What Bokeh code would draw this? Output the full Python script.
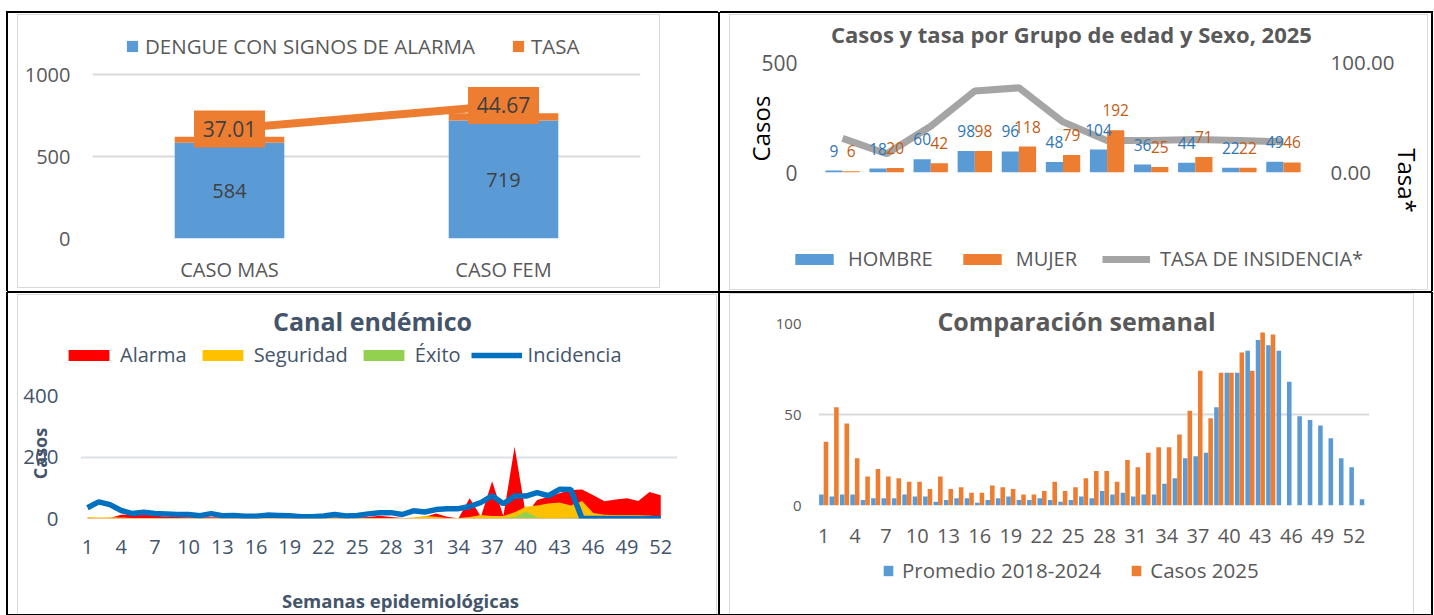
from bokeh.plotting import figure
from bokeh.models import (ColumnDataSource, Range1d, FactorRange, LinearAxis, FixedTicker,
                          NumeralTickFormatter, Legend, LegendItem, Label)
from bokeh.transform import dodge
from bokeh.core.properties import value
from bokeh.embed import file_html
from bokeh.resources import INLINE

# ---------------- data ----------------
# Panel 1: dengue con signos de alarma por sexo
sexo_cats = ["CASO MAS", "CASO FEM"]
sexo_casos = [584, 719]
sexo_tasa = [37.01, 44.67]

# Panel 2: casos y tasa por grupo de edad y sexo, 2025
grupos = ["<1", "1-4", "5-9", "10-14", "15-19", "20-29", "30-39", "40-49", "50-59", "60-69", "70+"]
hombre = [9, 18, 60, 98, 96, 48, 104, 36, 44, 22, 49]
mujer = [6, 20, 42, 98, 118, 79, 192, 25, 71, 22, 46]
tasa_incidencia = [31, 17, 42, 74, 77, 46, 29, 29, 30, 29, 28]

# Panel 4: comparacion semanal
semanas53 = list(range(1, 54))
promedio_2018_2024 = [6, 5, 6, 6, 3, 4, 4, 4, 6, 5, 5, 2, 3, 4, 4, 1.5, 3, 4, 5, 3,
                      3, 4, 3, 2, 3, 5, 4, 8, 6, 7, 5, 6, 6, 12, 15, 26, 27, 29, 54, 73,
                      73, 85, 91, 88, 85, 68, 49, 47, 44, 37, 26, 21, 3.5]
semanas_2025 = list(range(1, 45))
casos_2025 = [35, 54, 45, 26, 16, 20, 16, 15, 13, 13, 9, 16, 9, 10, 7, 7, 11, 10, 9, 6,
              6, 8, 13, 8, 10, 15, 19, 19, 13, 25, 21, 29, 32, 32, 39, 52, 74, 48, 73, 73,
              84, 74, 95, 94]

# Panel 3: canal endemico
semanas52 = list(range(1, 53))
alarma = [2, 2, 2, 12, 12, 12, 10, 6, 5, 4, 4, 4, 3, 3, 3, 3, 3, 3, 3, 3,
          3, 3, 3, 3, 3, 5, 9, 5, 2, 2, 5, 16, 6, 0, 66, 6, 121, 8, 233, 12,
          60, 71, 82, 93, 94, 76, 56, 62, 66, 57, 86, 76]
seguridad = [5, 3, 4, 3, 2, 2, 2, 2, 2, 2, 2, 2, 2, 2, 2, 2, 2, 2, 2, 2,
             2, 2, 2, 2, 2, 2, 2, 2, 2, 3, 8, 6, 2, 2, 5, 11, 8, 8, 20, 38,
             42, 49, 52, 42, 57, 18, 12, 11, 11, 11, 10, 5]
exito = [1, 1, 1, 1, 1, 1, 1, 1, 1, 1, 1, 1, 1, 1, 1, 1, 1, 1, 1, 1,
         1, 1, 1, 1, 1, 1, 1, 1, 1, 1, 1, 1, 1, 1, 1, 1, 2, 2, 5, 22,
         4, 2, 2, 3, 3, 2, 1, 1, 1, 1, 1, 1]
incidencia = casos_2025 + [0, 0, 0, 0, 0, 0, 0, 0]

# ---------------- styles ----------------
FONT = "Open Sans"
BLUE = "#5b9bd5"
ORANGE = "#ed7d31"
GRAYLINE = "#a5a5a5"
RED = "#ff0000"
YELLOW = "#ffc000"
GREEN = "#92d050"
INC_BLUE = "#0070c0"
GTXT = "#595959"
SLATE = "#44546a"
CHART_BORDER = "#d9d9d9"


def cell_styles(left, top, shadow, rect):
    l, t, r, b = rect
    g = "linear-gradient(%s,%s)" % (CHART_BORDER, CHART_BORDER)
    return {
        "position": "absolute", "left": "%dpx" % left, "top": "%dpx" % top,
        "background-color": "white",
        "background-image": ", ".join([g] * 4),
        "background-repeat": "no-repeat",
        "background-position": "%dpx %dpx, %dpx %dpx, %dpx %dpx, %dpx %dpx" % (l, t, r, t, l, t, l, b),
        "background-size": "1px %dpx, 1px %dpx, %dpx 1px, %dpx 1px" % (b - t, b - t, r - l + 1, r - l + 1),
        "outline": "1px solid #000000", "outline-offset": "-1px",
        "box-shadow": shadow,
    }


def base_fig(**kw):
    p = figure(output_backend="svg", toolbar_location=None, **kw)
    p.outline_line_color = None
    p.border_fill_color = None
    p.background_fill_color = None
    p.xgrid.grid_line_color = None
    return p


def overlay_fig(left, top, width, height):
    """Transparent layer over a cell that holds titles, axis titles and legends."""
    o = figure(output_backend="svg", toolbar_location=None, width=width, height=height,
               x_range=Range1d(0, 1), y_range=Range1d(0, 1),
               x_axis_location=None, y_axis_location=None, min_border=0)
    o.xgrid.visible = False
    o.ygrid.visible = False
    o.outline_line_color = None
    o.border_fill_color = None
    o.background_fill_color = None
    o.styles = {"position": "absolute", "left": "%dpx" % left, "top": "%dpx" % top}
    return o


# legend swatches live outside the overlay's visible range, only the legend shows them
KEY_SRC = dict(x=[-5, -4], y=[-5, -5], y2=[-4, -4])


def key_bar(o, color):
    return o.vbar(x=KEY_SRC["x"][:1], top=KEY_SRC["y"][:1], width=0.5, fill_color=color, line_color=None)


def key_line(o, color, width):
    return o.line(x=KEY_SRC["x"], y=KEY_SRC["y"], line_color=color, line_width=width)


def key_area(o, color):
    return o.varea(x=KEY_SRC["x"], y1=KEY_SRC["y"], y2=KEY_SRC["y2"], fill_color=color)


def style_axis(ax, size, color, standoff):
    ax.axis_line_color = None
    ax.major_tick_line_color = None
    ax.minor_tick_line_color = None
    ax.major_tick_out = 0
    ax.major_tick_in = 0
    ax.major_label_text_font = FONT
    ax.major_label_text_font_size = size
    ax.major_label_text_color = color
    ax.major_label_standoff = standoff


def style_legend(lg, size, color, gw, gh, standoff, spacing):
    lg.orientation = "horizontal"
    lg.glyph_width = gw
    lg.glyph_height = gh
    lg.label_standoff = standoff
    lg.spacing = spacing
    lg.padding = 0
    lg.margin = 0
    lg.border_line_color = None
    lg.background_fill_alpha = 0
    lg.label_text_font = FONT
    lg.label_text_font_size = size
    lg.label_text_color = color


def text_label(x, y, text, size, color, bold=False, angle=0, bg=None):
    lab = Label(x=x, y=y, x_units="screen", y_units="screen", text=text,
                angle=angle, angle_units="deg", text_align="center", text_baseline="middle",
                text_font=FONT, text_font_size=size, text_color=color,
                text_font_style="bold" if bold else "normal")
    if bg is not None:
        lab.background_fill_color = bg
    return lab


# ---------------- Panel 1 ----------------
src1 = ColumnDataSource(dict(
    cat=sexo_cats, casos=sexo_casos, tasa=sexo_tasa,
    top2=[c + t for c, t in zip(sexo_casos, sexo_tasa)],
    mid=[c / 2 for c in sexo_casos],
    casos_s=[str(c) for c in sexo_casos],
    tasa_s=["%.2f" % t for t in sexo_tasa]))

p1 = base_fig(x_range=FactorRange(*sexo_cats), y_range=Range1d(0, 1304.9), width=712, height=280,
              min_border_left=85, min_border_right=79, min_border_top=12, min_border_bottom=54)
p1.styles = cell_styles(7, 12, "-1px -1px 0 0 #000000", (10, 2, 652, 275))
p1.extra_y_ranges = {"tasa": Range1d(1.22, 71.12)}
p1.yaxis.ticker = FixedTicker(ticks=[0, 500, 1000])
p1.ygrid.ticker = FixedTicker(ticks=[0, 500, 1000])
p1.ygrid.grid_line_color = "#d9d9d9"
p1.ygrid.grid_line_width = 2
style_axis(p1.yaxis[0], "20px", GTXT, 22)
style_axis(p1.xaxis[0], "20px", GTXT, 17)

b1 = p1.vbar(x="cat", top="casos", width=0.4, source=src1, fill_color=BLUE, line_color=None)
b2 = p1.vbar(x="cat", bottom="casos", top="top2", width=0.4, source=src1, fill_color=ORANGE, line_color=None)
p1.line(x="cat", y="tasa", source=src1, y_range_name="tasa", line_color=ORANGE, line_width=8)
p1.rect(x="cat", y="tasa", width=71, height=37, width_units="screen", height_units="screen",
        source=src1, y_range_name="tasa", fill_color=ORANGE, line_color=None)
p1.text(x="cat", y="tasa", text="tasa_s", source=src1, y_range_name="tasa",
        text_font=value(FONT), text_font_size="21px", text_color="#404040",
        text_align="center", text_baseline="middle")
p1.text(x="cat", y="mid", text="casos_s", source=src1,
        text_font=value(FONT), text_font_size="20px", text_color="#404040",
        text_align="center", text_baseline="middle")

lg1 = Legend(items=[LegendItem(label="DENGUE CON SIGNOS DE ALARMA", renderers=[b1]),
                    LegendItem(label="TASA", renderers=[b2])], location=(33, 178))
style_legend(lg1, "20.5px", GTXT, 14, 14, 6, 36)
p1.add_layout(lg1)

# ---------------- Panel 2 ----------------
src2 = ColumnDataSource(dict(grupo=grupos, hombre=hombre, mujer=mujer, tasa=tasa_incidencia,
                             hombre_s=[str(v) for v in hombre], mujer_s=[str(v) for v in mujer]))
p2 = base_fig(x_range=FactorRange(*grupos), y_range=Range1d(0, 500), width=713, height=280,
              x_axis_location=None,
              min_border_left=101, min_border_right=127, min_border_top=50, min_border_bottom=120)
p2.styles = cell_styles(719, 12, "1px -1px 0 0 #000000", (10, 2, 708, 277))
p2.extra_y_ranges = {"tasa": Range1d(0, 100)}
p2.yaxis.ticker = FixedTicker(ticks=[0, 500])
p2.ygrid.ticker = FixedTicker(ticks=[0, 500])
p2.ygrid.grid_line_color = "#d9d9d9"
p2.ygrid.grid_line_width = 2
style_axis(p2.yaxis[0], "21px", GTXT, 23)
ax2r = LinearAxis(y_range_name="tasa", ticker=FixedTicker(ticks=[0, 100]),
                  formatter=NumeralTickFormatter(format="0.00"))
style_axis(ax2r, "20.5px", GTXT, 25)
p2.add_layout(ax2r, "right")

p2.line(x="grupo", y="tasa", source=src2, y_range_name="tasa", line_color=GRAYLINE, line_width=7)
p2.vbar(x=dodge("grupo", -0.195, range=p2.x_range), top="hombre", width=0.39, source=src2,
        fill_color=BLUE, line_color=None)
p2.vbar(x=dodge("grupo", 0.195, range=p2.x_range), top="mujer", width=0.39, source=src2,
        fill_color=ORANGE, line_color=None)
p2.text(x=dodge("grupo", -0.195, range=p2.x_range), y="hombre", text="hombre_s", source=src2,
        text_font=value(FONT), text_font_size="15.5px", text_color="#2e75b6",
        text_align="center", text_baseline="middle", y_offset=-20)
p2.text(x=dodge("grupo", 0.195, range=p2.x_range), y="mujer", text="mujer_s", source=src2,
        text_font=value(FONT), text_font_size="15.5px", text_color="#c55a11",
        text_align="center", text_baseline="middle", y_offset=-20)

o2 = overlay_fig(719, 12, 713, 280)
o2.add_layout(text_label(352, 259, "Casos y tasa por Grupo de edad y Sexo, 2025", "22px", GTXT, bold=True))
o2.add_layout(text_label(41, 164, "Casos", "24px", "#000000", angle=90))
o2.add_layout(text_label(688, 112, "Tasa*", "24px", "#000000", angle=-90))
lh = key_bar(o2, BLUE)
lm = key_bar(o2, ORANGE)
lt = key_line(o2, GRAYLINE, 7)
lg2 = Legend(items=[LegendItem(label="HOMBRE", renderers=[lh]),
                    LegendItem(label="MUJER", renderers=[lm]),
                    LegendItem(label="TASA DE INSIDENCIA*", renderers=[lt])], location=(71, 20))
style_legend(lg2, "20px", GTXT, 48, 14, 10, 25)
o2.add_layout(lg2)

# ---------------- Panel 3 ----------------
src3 = ColumnDataSource(dict(semana=semanas52, alarma=alarma, seguridad=seguridad,
                             exito=exito, incidencia=incidencia))
p3 = base_fig(x_range=Range1d(0.38, 53.49), y_range=Range1d(0, 400), width=712, height=323,
              min_border_left=73, min_border_right=42, min_border_top=103, min_border_bottom=97)
p3.styles = cell_styles(7, 292, "-1px 0 0 0 #000000", (10, 2, 709, 330))
p3.yaxis.ticker = FixedTicker(ticks=[0, 200, 400])
p3.ygrid.ticker = FixedTicker(ticks=[0, 200, 400])
p3.xaxis.ticker = FixedTicker(ticks=list(range(1, 53, 3)))
p3.ygrid.grid_line_color = "#dde1e7"
p3.ygrid.grid_line_width = 2
style_axis(p3.yaxis[0], "20.5px", SLATE, 22)
style_axis(p3.xaxis[0], "20px", SLATE, 21)
p3.varea(x="semana", y1=0, y2="alarma", source=src3, fill_color=RED)
p3.varea(x="semana", y1=0, y2="seguridad", source=src3, fill_color=YELLOW)
p3.varea(x="semana", y1=0, y2="exito", source=src3, fill_color=GREEN)
p3.line(x="semana", y="incidencia", source=src3, line_color=INC_BLUE, line_width=5.5)

o3 = overlay_fig(7, 292, 712, 323)
o3.add_layout(text_label(365, 295, "Canal endémico", "25px", SLATE, bold=True))
o3.add_layout(text_label(32, 162, "Casos", "18px", SLATE, bold=True, angle=90))
o3.add_layout(text_label(393, 15, "Semanas epidemiológicas", "18.5px", SLATE, bold=True))
la = key_area(o3, RED)
ls = key_area(o3, YELLOW)
le = key_area(o3, GREEN)
li = key_line(o3, INC_BLUE, 5.5)
lg3 = Legend(items=[LegendItem(label="Alarma", renderers=[la]),
                    LegendItem(label="Seguridad", renderers=[ls]),
                    LegendItem(label="Éxito", renderers=[le]),
                    LegendItem(label="Incidencia", renderers=[li])], location=(56, 247))
style_legend(lg3, "20px", SLATE, 51, 14, 6, 10)
o3.add_layout(lg3)

# ---------------- Panel 4 ----------------
src4a = ColumnDataSource(dict(semana=semanas53, promedio=promedio_2018_2024))
src4b = ColumnDataSource(dict(semana=semanas_2025, casos=casos_2025))
p4 = base_fig(x_range=Range1d(0.5, 53.5), y_range=Range1d(0, 100), width=713, height=323,
              min_border_left=99, min_border_right=63, min_border_top=31, min_border_bottom=110)
p4.styles = cell_styles(719, 292, "1px 0 0 0 #000000", (10, 1, 694, 330))
p4.yaxis.ticker = FixedTicker(ticks=[0, 50, 100])
p4.ygrid.ticker = FixedTicker(ticks=[0, 50, 100])
p4.xaxis.ticker = FixedTicker(ticks=list(range(1, 53, 3)))
p4.ygrid.grid_line_color = "#d9d9d9"
p4.ygrid.grid_line_width = 2
style_axis(p4.yaxis[0], "15px", GTXT, 17)
style_axis(p4.xaxis[0], "20px", GTXT, 23)
p4.vbar(x=dodge("semana", -0.22), top="promedio", width=0.44, source=src4a,
        fill_color=BLUE, line_color=None)
p4.vbar(x=dodge("semana", 0.22), top="casos", width=0.44, source=src4b,
        fill_color=ORANGE, line_color=None)

o4 = overlay_fig(719, 292, 713, 323)
o4.add_layout(text_label(357, 295, "Comparación semanal", "25px", GTXT, bold=True, bg="white"))
lp = key_bar(o4, BLUE)
lc = key_bar(o4, ORANGE)
lg4 = Legend(items=[LegendItem(label="Promedio 2018-2024", renderers=[lp]),
                    LegendItem(label="Casos 2025", renderers=[lc])], location=(163, 31))
style_legend(lg4, "20.5px", GTXT, 12, 13, 8, 29)
o4.add_layout(lg4)

open("out.html", "w").write(file_html([p1, p2, p3, p4, o2, o3, o4], INLINE))
